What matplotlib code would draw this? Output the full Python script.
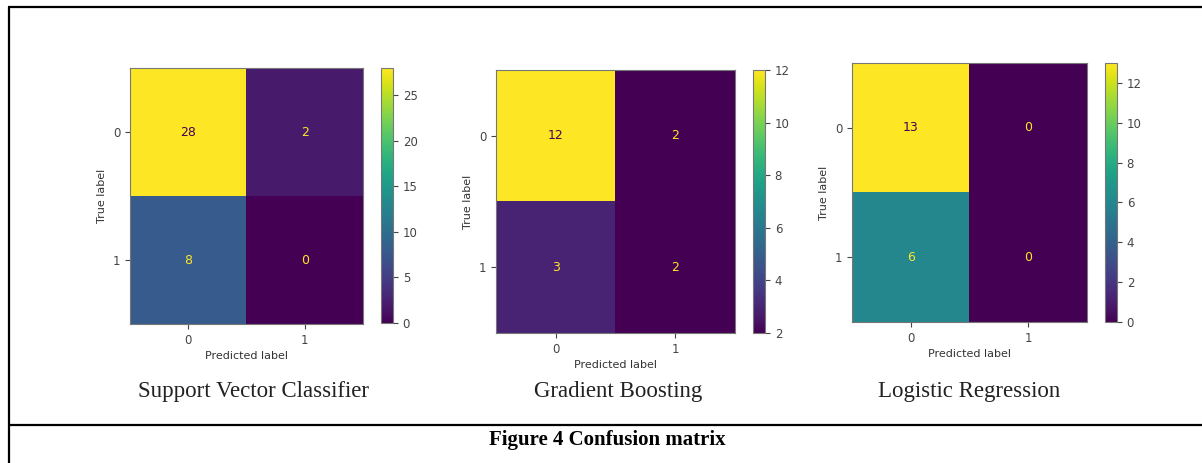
import matplotlib
matplotlib.use("Agg")
import matplotlib.pyplot as plt
from matplotlib.lines import Line2D
import numpy as np

W, H = 1202, 463

class_labels = ["0", "1"]
model_names = ["Support Vector Classifier", "Gradient Boosting", "Logistic Regression"]
svc_matrix = [[28, 2], [8, 0]]
gb_matrix = [[12, 2], [3, 2]]
lr_matrix = [[13, 0], [6, 0]]
caption = "Figure 4 Confusion matrix"

# pixel boxes (left, top, right, bottom) for each heatmap and its colorbar
axes_boxes = [(130, 68, 363, 324), (496, 70, 735, 333), (852, 63, 1087, 322)]
cbar_boxes = [(381, 68, 393, 323), (753, 70, 765, 333), (1105, 63, 1117, 322)]
title_x = [253, 618, 969]


def px_rect(box):
    x0, y0, x1, y1 = box
    return [x0 / W, 1 - y1 / H, (x1 - x0) / W, (y1 - y0) / H]


def draw_cm(fig, matrix, box, cbox):
    cm = np.array(matrix)
    ax = fig.add_axes(px_rect(box))
    cmap = plt.get_cmap("viridis")
    im = ax.imshow(cm, cmap=cmap, aspect="auto", interpolation="nearest")
    lo, hi = cm.min(), cm.max()
    thresh = (lo + hi) / 2.0
    for i in range(cm.shape[0]):
        for j in range(cm.shape[1]):
            color = cmap(1.0) if cm[i, j] < thresh else cmap(0.0)
            ax.text(j, i, str(cm[i, j]), ha="center", va="center",
                    color=color, fontsize=9)
    ax.set_xticks(range(len(class_labels)))
    ax.set_yticks(range(len(class_labels)))
    ax.set_xticklabels(class_labels)
    ax.set_yticklabels(class_labels)
    ax.set_xlabel("Predicted label", fontsize=8, color="#333333", labelpad=3)
    ax.set_ylabel("True label", fontsize=8, color="#333333")
    ax.tick_params(labelsize=8.5, colors="#444444", length=3.5)
    for s in ax.spines.values():
        s.set_color("#777777")
    cax = fig.add_axes(px_rect(cbox))
    cb = fig.colorbar(im, cax=cax)
    cb.ax.tick_params(labelsize=8.5, colors="#444444", length=3.5)
    cb.outline.set_edgecolor("#777777")
    return ax


fig = plt.figure(figsize=(W / 100, H / 100), dpi=100)
fig.patch.set_facecolor("white")

for matrix, box, cbox in zip([svc_matrix, gb_matrix, lr_matrix], axes_boxes, cbar_boxes):
    draw_cm(fig, matrix, box, cbox)

for name, x in zip(model_names, title_x):
    fig.text(x / W, 1 - 397 / H, name, ha="center", va="baseline",
             fontsize=16.5, family="Liberation Serif", color="#222222")

fig.text(607 / W, 1 - 445 / H, caption, ha="center", va="baseline",
         fontsize=15, family="Liberation Serif", fontweight="bold")

# table borders
fig.add_artist(Line2D([8.5 / W, 8.5 / W], [0, 1 - 6.5 / H], transform=fig.transFigure,
                      color="black", lw=1.6, solid_capstyle="butt"))
fig.add_artist(Line2D([7.5 / W, 1], [1 - 6.5 / H, 1 - 6.5 / H], transform=fig.transFigure,
                      color="black", lw=1.6, solid_capstyle="butt"))
fig.add_artist(Line2D([8.5 / W, 1], [1 - 424.5 / H, 1 - 424.5 / H], transform=fig.transFigure,
                      color="black", lw=1.6, solid_capstyle="butt"))

fig.savefig("out.png", dpi=100)
